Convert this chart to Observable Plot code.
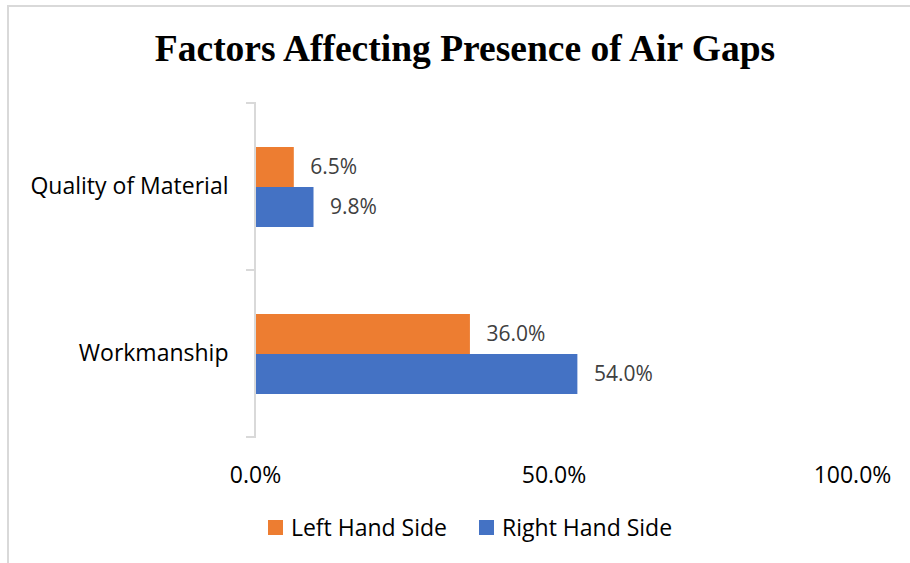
<!DOCTYPE html>
<html>
<head>
<meta charset="utf-8">
<script src="https://cdn.jsdelivr.net/npm/d3@7"></script>
<script src="https://cdn.jsdelivr.net/npm/@observablehq/plot@0.6"></script>
<style>
  html, body { margin: 0; padding: 0; background: #fff; }
  #wrap { position: relative; width: 910px; height: 563px; overflow: hidden; background: #fff; }
  #border { position: absolute; left: 7px; top: 5px; right: -10px; bottom: -10px;
            border-left: 2px solid #d9d9d9; border-top: 2px solid #d9d9d9; }
  #title { position: absolute; left: 0; top: 30px; width: 930px; text-align: center;
           font-family: "Liberation Serif", "Times New Roman", serif; font-weight: bold;
           font-size: 37.5px; line-height: 1; color: #000; white-space: nowrap; }
  #chart { position: absolute; left: 0; top: 0; }
  #legend { position: absolute; left: 0; top: 511px; width: 940px; display: flex; justify-content: center;
            font-family: "Open Sans", sans-serif; font-size: 23px; color: #000; }
  .item { display: flex; align-items: center; margin: 0 16px; white-space: nowrap; }
  .sw { width: 15px; height: 15px; margin-right: 8px; display: inline-block; }
</style>
</head>
<body>
<div id="wrap">
  <div id="border"></div>
  <div id="chart"></div>
  <div id="title"></div>
  <div id="legend"></div>
</div>
<script>
const title = "Factors Affecting Presence of Air Gaps";
const categories = ["Quality of Material", "Workmanship"];
const series = ["Left Hand Side", "Right Hand Side"];
const leftHandSide = [6.5, 36.0];
const rightHandSide = [9.8, 54.0];
const xTicks = [0, 50, 100];
const colors = ["#ED7D31", "#4472C4"];

const data = [];
categories.forEach((c, i) => {
  data.push({category: c, series: series[0], value: leftHandSide[i]});
  data.push({category: c, series: series[1], value: rightHandSide[i]});
});

const fmt = d => d.toFixed(1) + "%";

function axisLine(index, scales, values, dimensions) {
  const {x} = scales;
  const {marginTop, marginBottom, height} = dimensions;
  const x0 = x(0);
  const g = d3.create("svg:g").attr("stroke", "#d9d9d9").attr("stroke-width", 2).attr("fill", "none");
  const top = marginTop, bottom = height - marginBottom;
  g.append("line").attr("x1", x0).attr("x2", x0).attr("y1", top - 1).attr("y2", bottom + 1);
  for (const yy of [top, bottom]) {
    g.append("line").attr("x1", x0 - 9).attr("x2", x0).attr("y1", yy).attr("y2", yy);
  }
  return g.node();
}

const plot = Plot.plot({
  width: 910,
  height: 500,
  marginLeft: 255,
  marginRight: 58,
  marginTop: 103,
  marginBottom: 63,
  style: {fontFamily: "'Open Sans', sans-serif", fontSize: "23px", color: "#000", background: "transparent"},
  x: {domain: [0, 100], ticks: xTicks, tickFormat: fmt, tickSize: 0, tickPadding: 29, label: null},
  y: {domain: series, paddingInner: 0, paddingOuter: 1.0875, axis: null},
  fy: {domain: categories, padding: 0, axis: "left", tickSize: 0, tickPadding: 27, label: null},
  color: {domain: series, range: colors},
  marks: [
    Plot.barX(data, {x: "value", y: "series", fy: "category", fill: "series"}),
    Plot.text(data, {x: "value", y: "series", fy: "category", text: d => fmt(d.value),
      textAnchor: "start", dx: 16, fill: "#404040", fontSize: 21}),
    axisLine
  ]
});
document.getElementById("chart").appendChild(plot);
document.getElementById("title").textContent = title;

const legend = document.getElementById("legend");
series.forEach((s, i) => {
  const item = document.createElement("div");
  item.className = "item";
  const sw = document.createElement("span");
  sw.className = "sw";
  sw.style.background = colors[i];
  const lab = document.createElement("span");
  lab.textContent = s;
  item.appendChild(sw);
  item.appendChild(lab);
  legend.appendChild(item);
});
</script>
</body>
</html>
